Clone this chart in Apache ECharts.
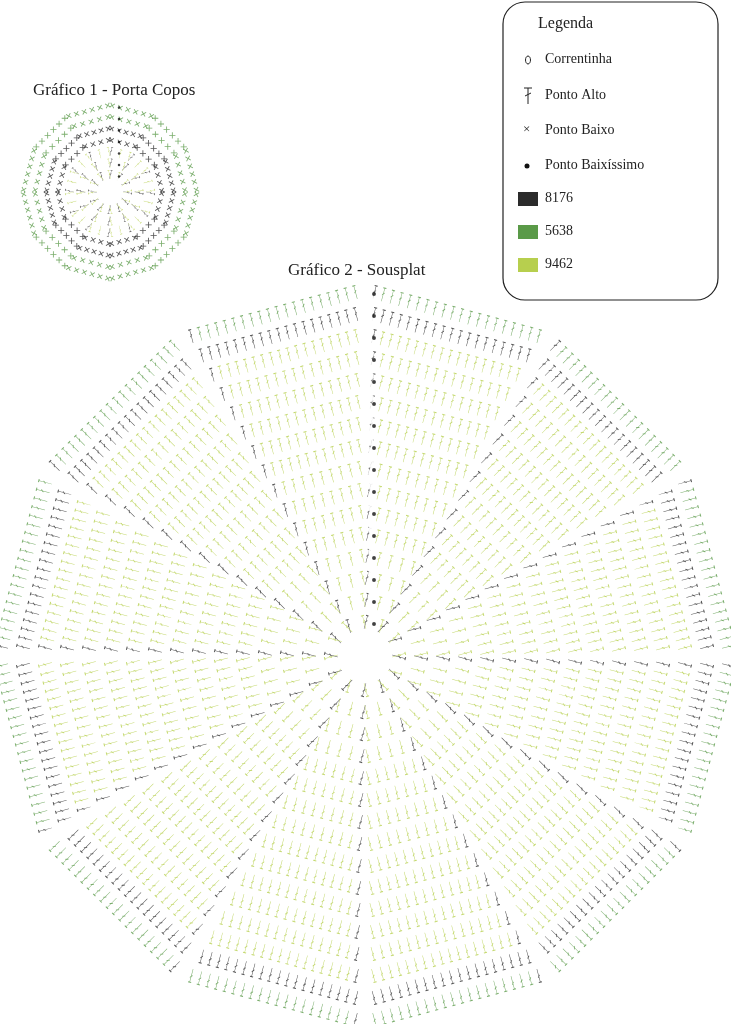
<!DOCTYPE html>
<html><head><meta charset="utf-8">
<script src="https://cdn.jsdelivr.net/npm/echarts@6/dist/echarts.min.js"></script>
<style>html,body{margin:0;background:#fff}#c{width:731px;height:1024px}</style>
</head><body><div id="c"></div>
<script>
// Gráfico 2 - Sousplat: round colours from the centre out (L=9462, K=8176, G=5638)
var sousplatRounds = ['L','L','L','L','L','L','L','L','L','L','L','L','L','L','K','G'];
// Gráfico 1 - Porta Copos: stitch kind and colour per round
var portaKinds  = ['T','T','T','x','x','x','x'];
var portaColors = ['L','L','L','K','K','G','G'];
var wedgeCount = 12;
var legendLabels = ['Correntinha','Ponto Alto','Ponto Baixo','Ponto Baixíssimo'];
var colorCodes = ['8176','5638','9462'];
var palette = {K:'#2b2b2b', G:'#5a9a48', L:'#b7cf4e'};

var T_PATH = 'path://M3 0H13V1.6H8.8V22H7.2V1.6H3Z M4.5 11L11.5 7.5V9.3L4.5 12.8Z';
var X_PATH = 'path://M0 1.2L1.2 0L5 3.8L8.8 0L10 1.2L6.2 5L10 8.8L8.8 10L5 6.2L1.2 10L0 8.8L3.8 5Z';

var groups = {};
function add(key, sym, size, color, x, y, rot){
  if(!groups[key]) groups[key] = {sym:sym, size:size, color:color, data:[]};
  groups[key].data.push({value:[x,y], symbolRotate:rot});
}
function buildChart(cx, cy, r0, step, kinds, colors, spacing, tSize, xSize){
  var half = 13.5;
  for (var w = 0; w < wedgeCount; w++){
    var mid = -90 + 15 + 30*w;
    var a1 = (mid-half)*Math.PI/180, a2 = (mid+half)*Math.PI/180;
    for (var r = 0; r < kinds.length; r++){
      var R = r0 + step*(r+1);
      var x1 = cx + R*Math.cos(a1), y1 = cy + R*Math.sin(a1);
      var x2 = cx + R*Math.cos(a2), y2 = cy + R*Math.sin(a2);
      var len = Math.hypot(x2-x1, y2-y1);
      var n = Math.max(2, Math.round(len/spacing));
      for (var k = 0; k < n; k++){
        var t = k/(n-1);
        var x = x1 + (x2-x1)*t, y = y1 + (y2-y1)*t;
        var col = colors[r];
        if (k === 0 && kinds[r] === 'T') col = 'K';
        var isT = kinds[r] === 'T';
        add((isT?'T':'X')+col+tSize, isT?T_PATH:X_PATH, isT?tSize:xSize, palette[col], x, y, -(mid+90));
      }
    }
  }
  // chain column at the join
  for (var r = 0; r < kinds.length; r++){
    var R = r0 + step*(r+1);
    for (var j = 0; j < 3; j++){
      var rr = R - step*(0.25 + j*0.28);
      add('O'+tSize, 'emptyCircle', [tSize[0]*0.6, tSize[1]*0.45], '#222', cx+6, cy-rr, 0);
    }
    add('D'+tSize, 'circle', tSize[0]*0.55, r === kinds.length-1 ? palette.G : '#111', cx+9, cy-R+2, 0);
  }
  add('C'+tSize, 'emptyCircle', r0*1.2, '#222', cx, cy, 0);
}
buildChart(365, 656, 12, 22, sousplatRounds.map(function(){return 'T';}), sousplatRounds, 8.5, [7,14], [6,6]);
buildChart(110, 192, 6, 11.5, portaKinds, portaColors, 6.5, [4.5,9], [5,5]);

var series = Object.keys(groups).map(function(k){
  var g = groups[k];
  return {type:'scatter', symbol:g.sym, symbolSize:g.size, symbolKeepAspect:true,
    itemStyle:{color:g.sym==='emptyCircle'?'#fff':g.color, borderColor:g.color, borderWidth:g.sym==='emptyCircle'?1:0},
    data:g.data, silent:true, animation:false};
});

var serif = '"Liberation Serif","DejaVu Serif",serif';
var legendGraphics = [
  {type:'rect', shape:{x:503,y:2,width:215,height:298,r:22}, style:{fill:'#fff',stroke:'#222',lineWidth:1.2}},
  {type:'text', x:538, y:16, style:{text:'Legenda', font:'16px '+serif, fill:'#222'}},
  {type:'ellipse', shape:{cx:528,cy:60,rx:2.5,ry:4}, style:{fill:'none',stroke:'#222'}},
  {type:'text', x:545, y:52, style:{text:legendLabels[0], font:'14px '+serif, fill:'#222'}},
  {type:'line', shape:{x1:524,y1:88,x2:532,y2:88}, style:{stroke:'#222',lineWidth:1}},
  {type:'line', shape:{x1:528,y1:88,x2:528,y2:104}, style:{stroke:'#222',lineWidth:1}},
  {type:'line', shape:{x1:525,y1:96,x2:531,y2:93}, style:{stroke:'#222',lineWidth:1}},
  {type:'text', x:545, y:88, style:{text:legendLabels[1], font:'14px '+serif, fill:'#222'}},
  {type:'text', x:523, y:123, style:{text:'×', font:'13px '+serif, fill:'#222'}},
  {type:'text', x:545, y:123, style:{text:legendLabels[2], font:'14px '+serif, fill:'#222'}},
  {type:'circle', shape:{cx:527,cy:166,r:2.5}, style:{fill:'#111'}},
  {type:'text', x:545, y:158, style:{text:legendLabels[3], font:'14px '+serif, fill:'#222'}}
];
var sw = [palette.K, palette.G, palette.L];
colorCodes.forEach(function(c,i){
  legendGraphics.push({type:'rect', shape:{x:518,y:192+i*33,width:20,height:14}, style:{fill:sw[i]}});
  legendGraphics.push({type:'text', x:545, y:191+i*33, style:{text:c, font:'14px '+serif, fill:'#222'}});
});
legendGraphics.push({type:'text', x:33, y:82, style:{text:'Gráfico 1 - Porta Copos', font:'17px '+serif, fill:'#222'}});
legendGraphics.push({type:'text', x:288, y:262, style:{text:'Gráfico 2 - Sousplat', font:'17px '+serif, fill:'#222'}});

var chart = echarts.init(document.getElementById('c'));
chart.setOption({
  animation:false,
  grid:{left:0,right:0,top:0,bottom:0},
  xAxis:{type:'value', min:0, max:731, show:false},
  yAxis:{type:'value', min:0, max:1024, inverse:true, show:false},
  graphic:legendGraphics,
  series:series
});
</script></body></html>
